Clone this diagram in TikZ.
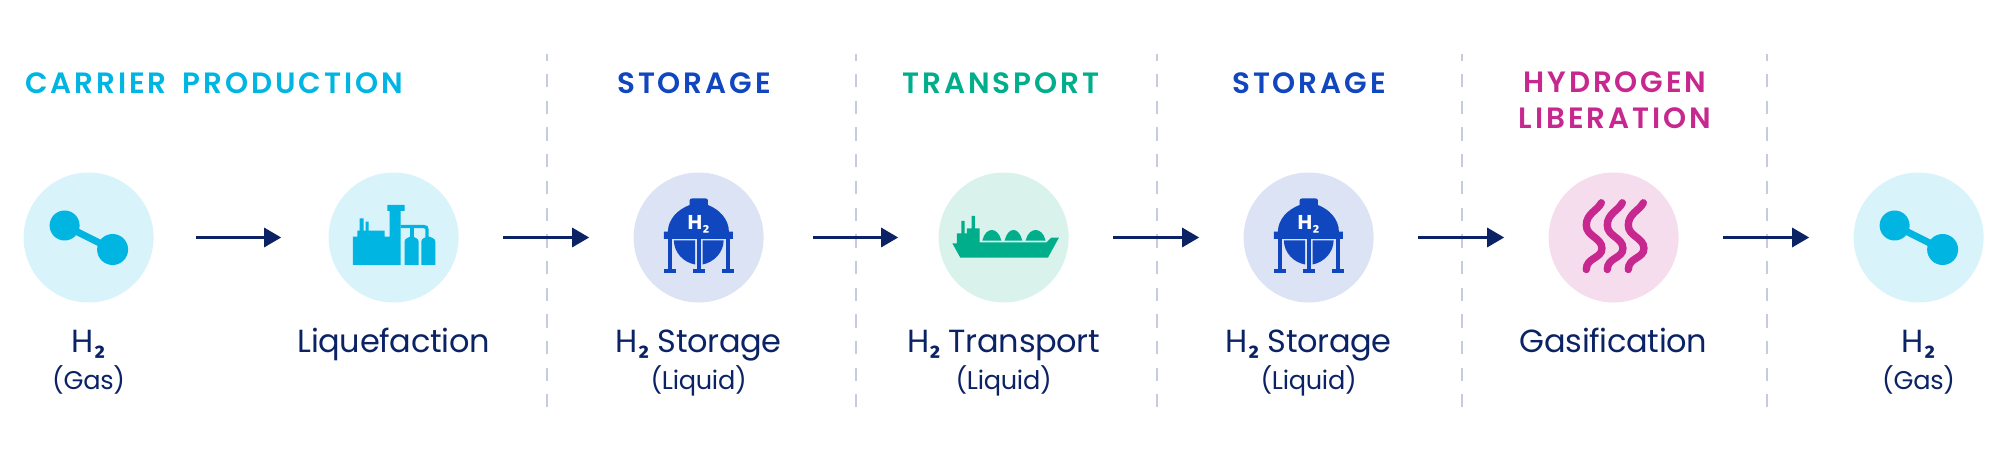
\documentclass[tikz,border=0pt]{standalone}
\usepackage{fontspec}
\usepackage{tikz}
\usetikzlibrary{arrows.meta}
\setmainfont[LetterSpace=-1]{Poppins}
\newfontfamily\headfont[LetterSpace=10,WordSpace=1.6,UprightFont=*-SemiBold]{Poppins}
\newfontfamily\subfont[Scale=0.9]{Fira Sans}
\newcommand{\htwo}{H{\subfont\bfseries ₂}}
\definecolor{carrier}{HTML}{00B5E2}
\definecolor{carrierbg}{HTML}{D9F3FB}
\definecolor{storage}{HTML}{1047BE}
\definecolor{storagebg}{HTML}{DCE3F4}
\definecolor{transport}{HTML}{00AE8B}
\definecolor{transportbg}{HTML}{D9F3EC}
\definecolor{liberation}{HTML}{C7288F}
\definecolor{liberationbg}{HTML}{F5DDEE}
\definecolor{navy}{HTML}{0B2265}
\definecolor{dashgrey}{HTML}{C5CCE0}
\tikzset{
  molecule/.pic={
    \fill[carrier] (-24,-12) circle (15);
    \fill[carrier] (24,12) circle (15.5);
    \draw[carrier,line width=3.5pt] (-24,-12) -- (24,12);
  },
  plant/.pic={
    \fill[carrier] (-40.7,27.5) -- (-40.7,-0.8) -- (-36.3,-0.8) -- (-36.3,-6.8) -- (-34,-6.8) -- (-34,-19) -- (-30,-19) -- (-30,-6.8)
      -- (-28,-6.8) -- (-28,-15.8) -- (-25,-15.8) -- (-25,-6.8) -- (-9,-6.8) -- (-9,-0.8) -- (-4,-0.8) -- (-4,-26.5)
      -- (-6.3,-26.5) -- (-6.3,-32.5) -- (11,-32.5) -- (11,-26.5) -- (7,-26.5) -- (7,27.5) -- cycle;
    \fill[carrier] (11,27.5) -- (11,4) .. controls (11,1) and (15,0) .. (16.5,-0.8) -- (19.5,-0.8) .. controls (21,0) and (25,1) .. (25,4) -- (25,27.5) -- cycle;
    \fill[carrier] (27.7,27.5) -- (27.7,4) .. controls (27.7,1) and (31.7,0) .. (33,-0.8) -- (36,-0.8) .. controls (37.7,0) and (41.7,1) .. (41.7,4) -- (41.7,27.5) -- cycle;
    \draw[carrier,line width=1.65pt] (7,-10.9) -- (30,-10.9) .. controls (32.4,-10.9) and (33.4,-10) .. (33.4,-8) -- (33.4,0);
    \draw[carrier,line width=1.65pt] (18.3,-10.9) -- (18.3,0);
  },
  tank/.pic={
    \fill[storage] (-9,-32.5) -- (-9,-37) .. controls (-9,-38.5) and (-8,-39) .. (-6.5,-39) -- (7,-39) .. controls (8.5,-39) and (9.3,-38.5) .. (9.3,-37) -- (9.3,-32.5)
      .. controls (21,-28) and (30.3,-18) .. (30.3,-5.8) -- (34.3,-5.8) -- (34.3,1.5) -- (-34.7,1.5) -- (-34.7,-5.8) -- (-30.7,-5.8) .. controls (-30.7,-18) and (-21,-28) .. (-9,-32.5) -- cycle;
    \fill[storage] (-24.7,3) -- (-3.5,3) -- (-3.5,27) .. controls (-15,25) and (-24.7,15) .. (-24.7,3) -- cycle;
    \fill[storage] (3.9,3) -- (25,3) .. controls (25,15) and (15,25) .. (3.9,27) -- cycle;
    \foreach \leg in {-28.7,0.2,29.7} {
      \fill[storage] (\leg-2,1) rectangle (\leg+2,33);
      \fill[storage] (\leg-6,31.8) rectangle (\leg+6,35.2);
    }
    \node[text=white,font=\bfseries\fontsize{10}{11}\selectfont,anchor=base] (tanklabel) at (0,-8) {\htwo};
  }
}
\begin{document}
\begin{tikzpicture}[x=0.5pt,y=-0.5pt,node distance=152.5pt,
    main/.style={circle,minimum size=65pt,inner sep=0pt},
    head/.style={font=\headfont\fontsize{14.7}{18}\selectfont,anchor=base,align=center},
    title/.style={font=\fontsize{16}{18}\selectfont,text=navy,anchor=base},
    sub/.style={font=\fontsize{12.8}{14}\selectfont,text=navy,anchor=base},
    divider/.style={dashgrey,line width=1.25pt,dash pattern=on 6.65pt off 6.7pt,dash phase=3.3pt},
    flow/.style={navy,line width=1.5pt,-{Triangle[length=8.5pt,width=9.5pt]},shorten <=22pt,shorten >=22pt}]
  \useasboundingbox (0,0) rectangle (2000,453);
  \foreach \x in {547,856,1157,1462,1767} {
    \coordinate (top\x) at (\x,54);
    \coordinate (bot\x) at (\x,407);
    \draw[divider] (top\x) -- (bot\x);
  }
  \node[main,fill=carrierbg] (1) at (88.6,237.5) {};
  \node[main,fill=carrierbg] (2) [right of=1] {};
  \node[main,fill=storagebg] (3) [right of=2] {};
  \node[main,fill=transportbg] (4) [right of=3] {};
  \node[main,fill=storagebg] (5) [right of=4] {};
  \node[main,fill=liberationbg] (6) [right of=5] {};
  \node[main,fill=carrierbg] (7) [right of=6] {};
  \pic at (1) {molecule};
  \pic at (2) {plant};
  \pic at (3) {tank};
  \pic at (5) {tank};
  \pic at (7) {molecule};
  \begin{scope}[shift={(4)}]
    \fill[transport] (-51.3,5.8) -- (-46.7,5.8) -- (-46.7,-4.2) -- (-42.3,-4.2) -- (-42.3,-16.5) -- (-39,-16.5) -- (-39,-4.2) -- (-36.7,-4.2) -- (-36.7,-9.2)
      -- (-32,-9.2) -- (-32,-21.5) -- (-28.7,-21.5) -- (-28.7,-9.2) -- (-24,-9.2) -- (-24,5) -- (42.7,5) -- (47.7,0.2) -- (55.3,0.2) -- (44.3,20.2) -- (-43.3,20.2) -- cycle;
    \foreach \d/\w in {-21.3/19,1/17.7,22/20} {
      \fill[transport] (\d,3.2) -- (\d+0.5,1.5) .. controls (\d+2,-4) and (\d+0.3*\w,-7.5) .. (\d+0.5*\w,-7.5) .. controls (\d+0.7*\w,-7.5) and (\d+\w-2,-4) .. (\d+\w-0.5,1.5) -- (\d+\w,3.2) -- cycle;
    }
  \end{scope}
  \begin{scope}[shift={(6)}]
    \foreach \d in {0,21,42} {
      \draw[liberation,line width=3.7pt,line cap=round] (\d-12.3,-34.7) .. controls (\d-16,-27) and (\d-27.3,-24) .. (\d-27.3,-12.3)
        .. controls (\d-27.3,-1) and (\d-11.7,0) .. (\d-11.7,11) .. controls (\d-11.7,21) and (\d-27.3,20) .. (\d-27.3,32);
    }
  \end{scope}
  \draw[flow,shorten <=21pt,shorten >=23.5pt] (1) -- (2);
  \draw[flow] (2) -- (3);
  \draw[flow,shorten <=24.5pt,shorten >=20pt] (3) -- (4);
  \draw[flow] (4) -- (5);
  \draw[flow] (5) -- (6);
  \draw[flow] (6) -- (7);
  \node[head,text=carrier] (carrierhead) at (214,94) {CARRIER PRODUCTION};
  \node[head,text=storage] (storagehead) at (694,94) {STORAGE};
  \node[head,text=transport] (transporthead) at (1001,94) {TRANSPORT};
  \node[head,text=storage] (storagehead2) at (1309,94) {STORAGE};
  \node[head,text=liberation,anchor=center] (liberationhead) at (1615,100) {HYDROGEN\\LIBERATION};
  \node[title,node distance=57.75pt] (t1) [below of=1,anchor=base] {\htwo};
  \node[title,node distance=57.75pt] (t2) [below of=2,anchor=base] {Liquefaction};
  \node[title,node distance=57.75pt] (t3) [below of=3,anchor=base] {\htwo{} Storage};
  \node[title,node distance=57.75pt] (t4) [below of=4,anchor=base] {\htwo{} Transport};
  \node[title,node distance=57.75pt] (t5) [below of=5,anchor=base] {\htwo{} Storage};
  \node[title,node distance=57.75pt] (t6) [below of=6,anchor=base] {Gasification};
  \node[title,node distance=57.75pt] (t7) [below of=7,anchor=base] {\htwo};
  \node[sub,node distance=76pt] (s1) [below of=1,anchor=base] {(Gas)};
  \node[sub,node distance=76pt] (s3) [below of=3,anchor=base] {(Liquid)};
  \node[sub,node distance=76pt] (s4) [below of=4,anchor=base] {(Liquid)};
  \node[sub,node distance=76pt] (s5) [below of=5,anchor=base] {(Liquid)};
  \node[sub,node distance=76pt] (s7) [below of=7,anchor=base] {(Gas)};
\end{tikzpicture}
\end{document}
